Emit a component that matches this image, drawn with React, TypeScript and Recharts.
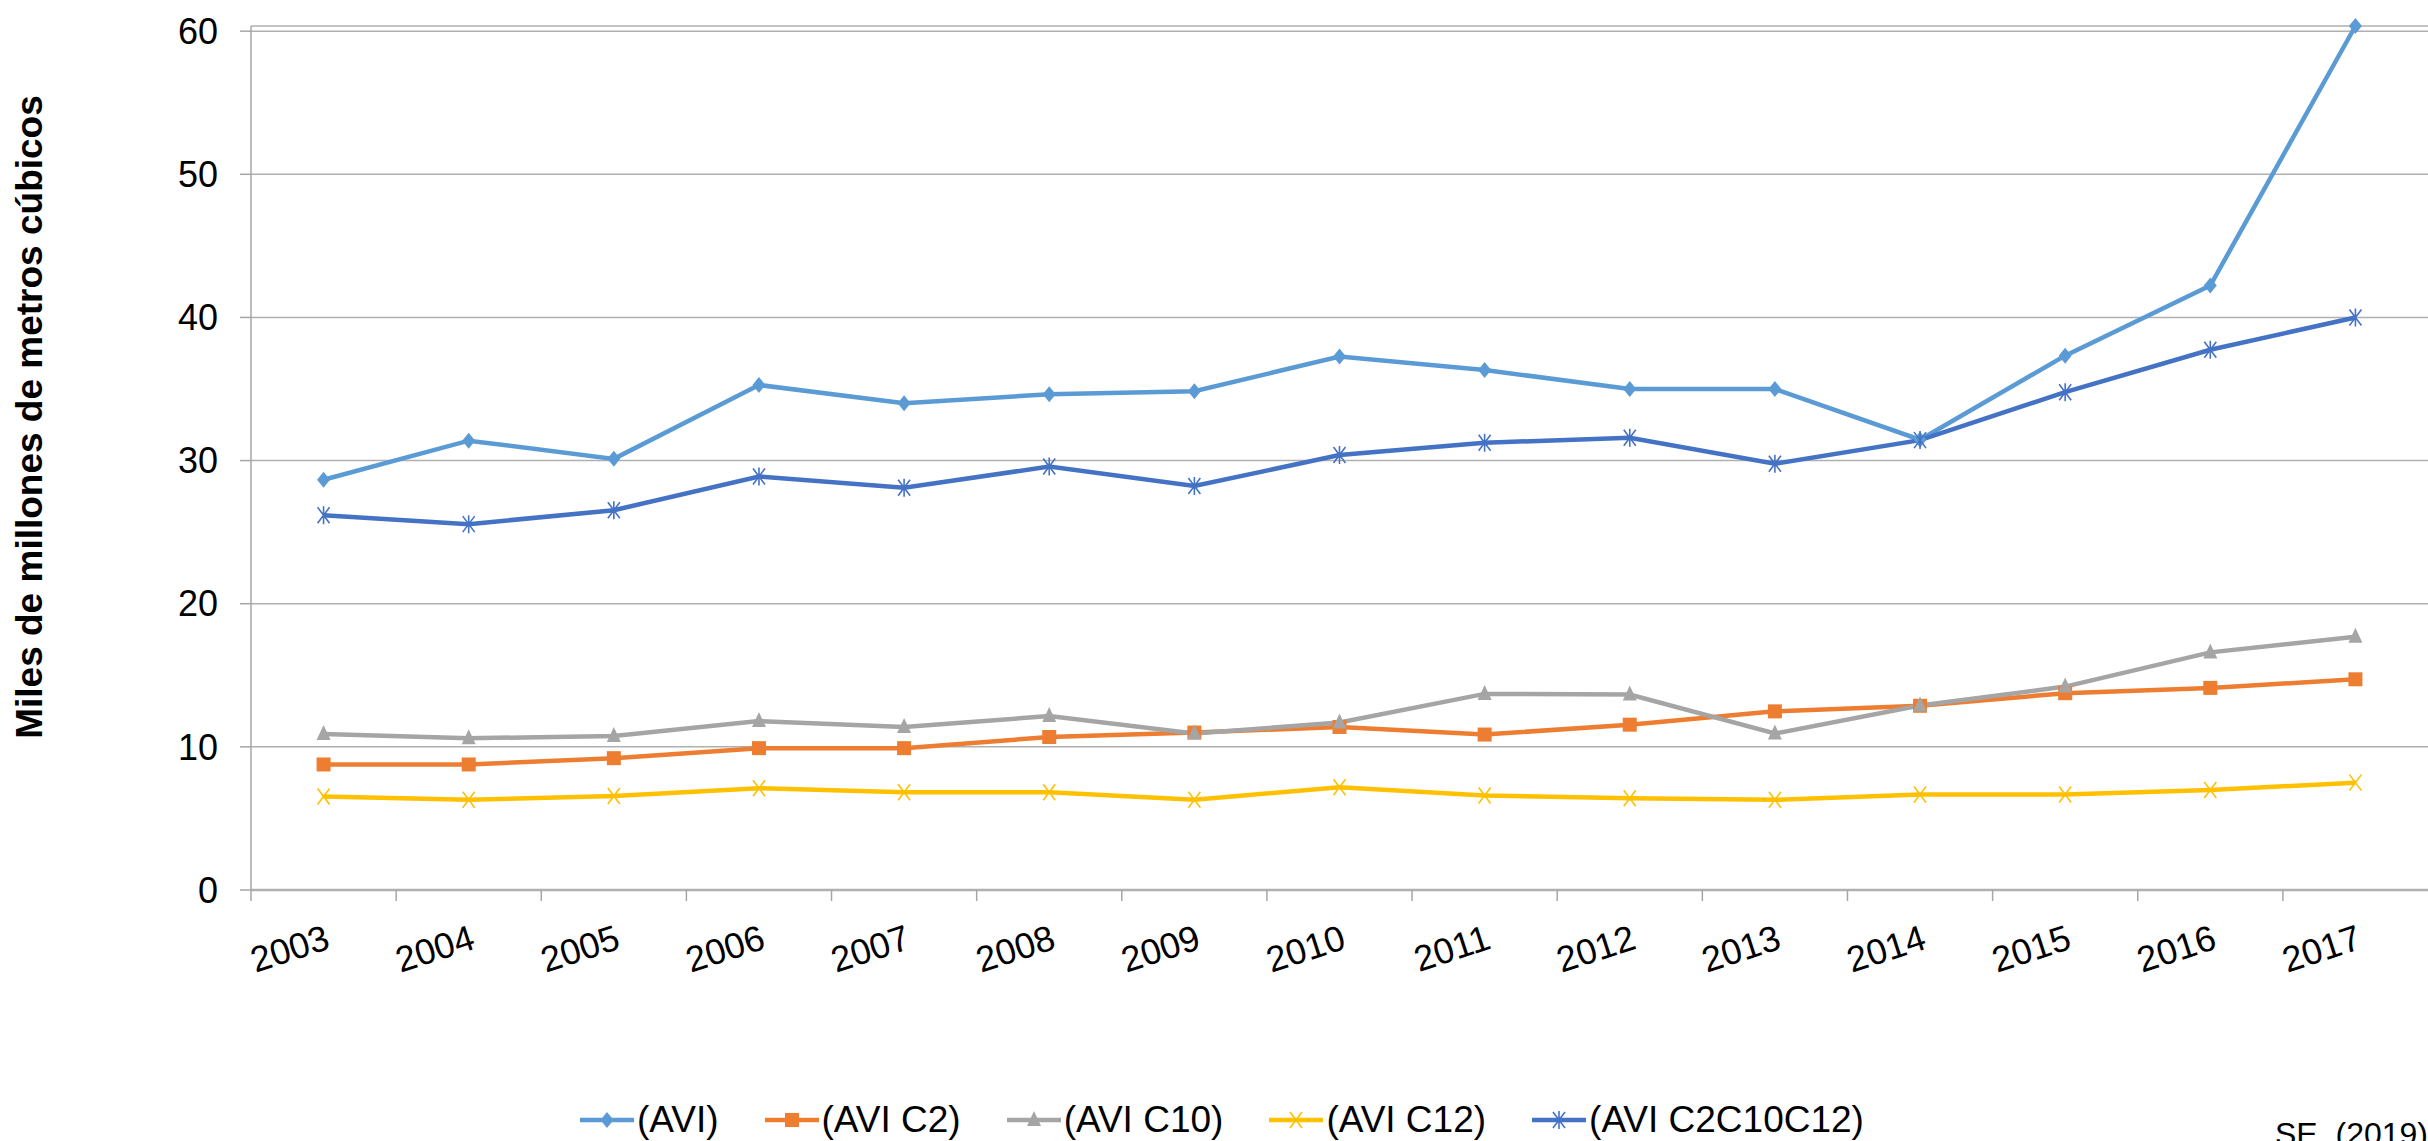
import React from 'react';
import { LineChart, Line, XAxis, YAxis, CartesianGrid, Label } from 'recharts';

const years = ['2003', '2004', '2005', '2006', '2007', '2008', '2009', '2010', '2011', '2012', '2013', '2014', '2015', '2016', '2017'];

const avi = [28.66, 31.39, 30.12, 35.28, 34.0, 34.63, 34.84, 37.27, 36.33, 35.0, 35.0, 31.46, 37.33, 42.23, 60.36];
const aviC2 = [8.77, 8.77, 9.21, 9.91, 9.91, 10.69, 11.0, 11.39, 10.86, 11.55, 12.48, 12.87, 13.75, 14.12, 14.72];
const aviC10 = [10.9, 10.6, 10.76, 11.8, 11.39, 12.15, 10.93, 11.7, 13.7, 13.66, 10.93, 12.89, 14.21, 16.6, 17.69];
const aviC12 = [6.53, 6.3, 6.57, 7.11, 6.83, 6.83, 6.3, 7.18, 6.6, 6.41, 6.3, 6.67, 6.67, 6.99, 7.5];
const aviAll = [26.18, 25.56, 26.53, 28.89, 28.1, 29.58, 28.22, 30.39, 31.24, 31.6, 29.78, 31.43, 34.78, 37.74, 40.0];

const yTicks = [0, 10, 20, 30, 40, 50, 60];

const FONT = "'Liberation Sans', Arial, Helvetica, sans-serif";
const AXIS_GRAY = '#a6a6a6';

const SERIES = [
  { key: 'avi', name: '(AVI)', color: '#5B9BD5', shape: 'diamond' },
  { key: 'aviC2', name: '(AVI C2)', color: '#ED7D31', shape: 'square' },
  { key: 'aviC10', name: '(AVI C10)', color: '#A5A5A5', shape: 'triangle' },
  { key: 'aviC12', name: '(AVI C12)', color: '#FFC000', shape: 'x' },
  { key: 'aviAll', name: '(AVI C2C10C12)', color: '#4472C4', shape: 'star' },
];

const data = years.map((year, i) => ({
  x: i + 0.5,
  year,
  avi: avi[i],
  aviC2: aviC2[i],
  aviC10: aviC10[i],
  aviC12: aviC12[i],
  aviAll: aviAll[i],
}));

// one slot per year, label in the middle of the slot
const labelTicks = years.map((_, i) => i + 0.5);

function Marker({ cx, cy, shape, color }: { cx: number; cy: number; shape: string; color: string }) {
  if (cx == null || cy == null) return <g />;
  switch (shape) {
    case 'diamond':
      return <polygon points={`${cx},${cy - 8} ${cx + 6.5},${cy} ${cx},${cy + 8} ${cx - 6.5},${cy}`} fill={color} />;
    case 'square':
      return <rect x={cx - 7} y={cy - 7} width={14} height={14} fill={color} />;
    case 'triangle':
      return <polygon points={`${cx},${cy - 9} ${cx + 7},${cy + 6} ${cx - 7},${cy + 6}`} fill={color} />;
    case 'x':
      return (
        <path
          d={`M${cx - 6},${cy - 8}L${cx + 6},${cy + 8}M${cx + 6},${cy - 8}L${cx - 6},${cy + 8}`}
          stroke={color}
          strokeWidth={1.6}
          fill="none"
        />
      );
    default:
      return (
        <path
          d={`M${cx - 6},${cy - 8}L${cx + 6},${cy + 8}M${cx + 6},${cy - 8}L${cx - 6},${cy + 8}M${cx},${cy - 9}L${cx},${cy + 9}`}
          stroke={color}
          strokeWidth={1.6}
          fill="none"
        />
      );
  }
}

// Excel style: tick mark on the slot boundary, rotated year label ending at the slot centre
const YearTick = (props: any) => {
  const { x, y, payload, width } = props;
  const i = Math.round(payload.value - 0.5);
  const slot = (typeof width === 'number' && width > 0 ? width : 2177) / years.length;
  const bx = x - slot / 2;
  const ax = x + 8;
  const ay = y + 58;
  return (
    <g>
      <line x1={bx} y1={y} x2={bx} y2={y + 11} stroke={AXIS_GRAY} strokeWidth={1.5} />
      <text x={ax} y={ay} transform={`rotate(-18, ${ax}, ${ay})`} textAnchor="end" fontSize={36} fontFamily={FONT} fill="#000">
        {years[i]}
      </text>
    </g>
  );
};

export default function App() {
  return (
    <div style={{ position: 'absolute', left: 0, top: 0, width: 2428, height: 1141, overflow: 'hidden', background: '#fff' }}>
      <LineChart width={2428} height={1141} data={data} margin={{ top: 26, right: 0, bottom: 0, left: 0 }}>
        <CartesianGrid vertical={false} stroke="#b0b0b0" strokeWidth={1.5} />
        <XAxis
          dataKey="x"
          type="number"
          domain={[0, years.length]}
          ticks={labelTicks}
          height={251}
          tickSize={0}
          tickMargin={0}
          tickLine={false}
          tick={<YearTick />}
          axisLine={{ stroke: '#b0b0b0', strokeWidth: 2.5 }}
        />
        <YAxis
          domain={[0, 60]}
          ticks={yTicks}
          width={251}
          tickSize={11}
          tickMargin={22}
          tick={{ fontSize: 36, fill: '#000', fontFamily: FONT }}
          tickLine={{ stroke: AXIS_GRAY, strokeWidth: 1.5 }}
          axisLine={{ stroke: AXIS_GRAY, strokeWidth: 1.5 }}
        >
          <Label
            content={() => (
              <text
                x={42}
                y={417}
                transform="rotate(-90, 42, 417)"
                textAnchor="middle"
                fontSize={37}
                fontWeight="bold"
                fontFamily={FONT}
                fill="#000"
              >
                Miles de millones de metros cúbicos
              </text>
            )}
          />
        </YAxis>
        {SERIES.map(s => (
          <Line
            key={s.key}
            type="linear"
            dataKey={s.key}
            name={s.name}
            stroke={s.color}
            strokeWidth={4.5}
            activeDot={false}
            isAnimationActive={false}
            dot={(p: any) => <Marker key={`${s.key}-${p.index}`} cx={p.cx} cy={p.cy} shape={s.shape} color={s.color} />}
          />
        ))}
      </LineChart>

      <div
        style={{
          position: 'absolute',
          left: 580,
          top: 1101,
          display: 'flex',
          alignItems: 'center',
          gap: 46,
          fontFamily: FONT,
          fontSize: 37,
          lineHeight: 1,
          color: '#000',
          whiteSpace: 'nowrap',
        }}
      >
        {SERIES.map(s => (
          <div key={s.key} style={{ display: 'flex', alignItems: 'center' }}>
            <svg width={54} height={22}>
              <line x1={0} y1={11} x2={54} y2={11} stroke={s.color} strokeWidth={4.5} />
              <Marker cx={27} cy={11} shape={s.shape} color={s.color} />
            </svg>
            <span style={{ marginLeft: 3 }}>{s.name}</span>
          </div>
        ))}
      </div>

      <div
        style={{
          position: 'absolute',
          left: 2275,
          top: 1118,
          fontFamily: FONT,
          fontSize: 32,
          lineHeight: 1,
          color: '#000',
          whiteSpace: 'pre',
        }}
      >
        {'SE  (2019)'}
      </div>
    </div>
  );
}
